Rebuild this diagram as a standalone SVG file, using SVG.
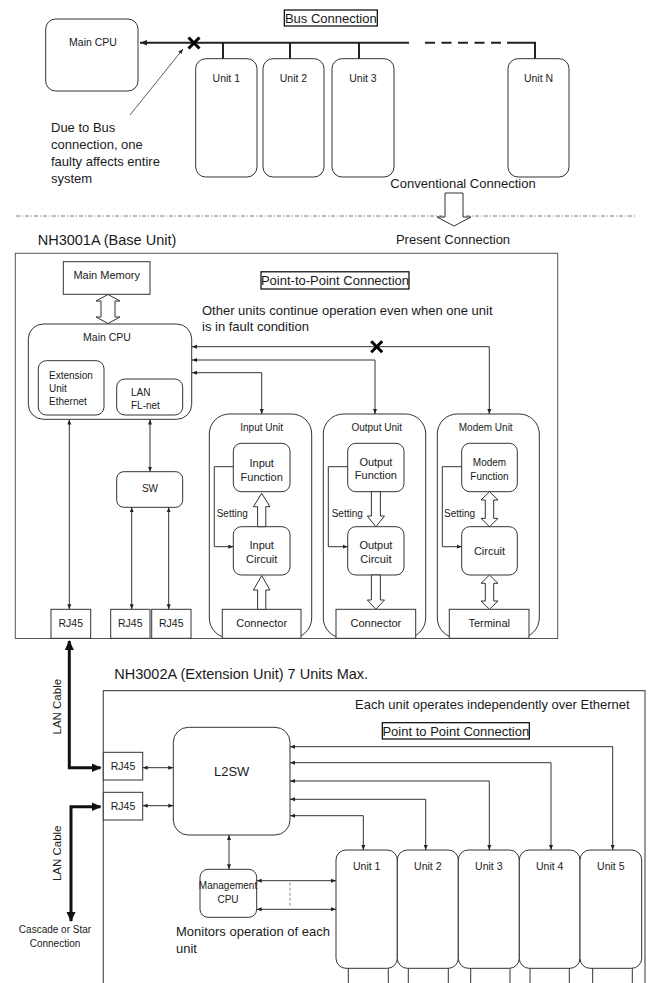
<svg xmlns="http://www.w3.org/2000/svg" width="653" height="983" viewBox="0 0 653 983">
<style>
text{font-family:"Liberation Sans",Arial,sans-serif;fill:#1a1a1a}
.s10{font-size:10px}.s105{font-size:10.5px}.s11{font-size:11px}.s13{font-size:13px}.s145{font-size:14.5px}
.m{text-anchor:middle}
.box{fill:#fff;stroke:#333;stroke-width:1}
.ln{fill:none;stroke:#333;stroke-width:1}
.thin{fill:none;stroke:#333;stroke-width:0.8}
.hol{fill:#fff;stroke:#333;stroke-width:1;stroke-linejoin:miter}
.lbl{fill:#fff;stroke:#000;stroke-width:1.2}
</style>
<defs>
<marker id="ah" viewBox="0 0 10 10" refX="10" refY="5" markerWidth="5" markerHeight="5" markerUnits="userSpaceOnUse" orient="auto-start-reverse"><path d="M0,1 L10,5 L0,9 z" fill="#222"/></marker>
<marker id="ahb" viewBox="0 0 10 10" refX="10" refY="5" markerWidth="7" markerHeight="7" markerUnits="userSpaceOnUse" orient="auto-start-reverse"><path d="M0,1 L10,5 L0,9 z" fill="#222"/></marker>
<marker id="ahk" viewBox="0 0 10 10" refX="9" refY="5" markerWidth="10" markerHeight="10" markerUnits="userSpaceOnUse" orient="auto-start-reverse"><path d="M0,0.5 L10,5 L0,9.5 z" fill="#111"/></marker>
</defs>

<!-- ===== Conventional (top) ===== -->
<g id="top-main-cpu"><rect class="box" x="45.7" y="19" width="92.3" height="72" rx="10"/><text class="s105 m" x="93" y="45.5">Main CPU</text></g>
<g id="bus-label"><rect class="lbl" x="284.3" y="10" width="93" height="16"/><text class="s13 m" x="330.8" y="22.7">Bus Connection</text></g>
<g id="top-unit1"><rect class="box" x="195.7" y="58.7" width="61.3" height="118.3" rx="10"/><text class="s105 m" x="226.3" y="81.5">Unit 1</text></g>
<g id="top-unit2"><rect class="box" x="263" y="58.7" width="61" height="118.3" rx="10"/><text class="s105 m" x="293.5" y="81.5">Unit 2</text></g>
<g id="top-unit3"><rect class="box" x="332" y="58.7" width="62" height="118.3" rx="10"/><text class="s105 m" x="363" y="81.5">Unit 3</text></g>
<g id="top-unitN"><rect class="box" x="508" y="58.7" width="61" height="118.3" rx="10"/><text class="s105 m" x="538.5" y="81.5">Unit N</text></g>
<g id="fault-note"><text class="s13" x="51" y="131.5">Due to Bus</text><text class="s13" x="51" y="148.8">connection, one</text><text class="s13" x="51" y="166.1">faulty affects entire</text><text class="s13" x="51" y="183.4">system</text></g>
<g id="conv-label"><text class="s13 m" x="463" y="187.5">Conventional Connection</text></g>
<g id="present-label"><text class="s13 m" x="453" y="243.5">Present Connection</text></g>

<g id="top-connectors">
<path d="M409,42.7 L140,42.7" fill="none" stroke="#222" stroke-width="2" marker-end="url(#ahb)"/>
<path d="M425,42.7 L507,42.7" fill="none" stroke="#222" stroke-width="2" stroke-dasharray="10 6.5"/>
<path d="M507,42.7 L535,42.7 L535,58.7" fill="none" stroke="#222" stroke-width="2"/>
<path d="M223,42.7 V58.7 M290,42.7 V58.7 M359,42.7 V58.7" fill="none" stroke="#222" stroke-width="2"/>
<path d="M188.5,37.5 L199.5,48.5 M199.5,37.5 L188.5,48.5" stroke="#000" stroke-width="3"/>
<path class="thin" d="M130,115 L183,49" marker-end="url(#ah)"/>
<line x1="16" y1="216" x2="636" y2="216" stroke="#555" stroke-width="0.8" stroke-dasharray="4 2 1 2"/>
<polygon class="hol" points="445,193 463,193 463,217 471,217 454,226 437,217 445,217"/>
</g>

<!-- ===== Base Unit ===== -->
<text class="s145" x="37.7" y="245">NH3001A (Base Unit)</text>
<rect x="15.3" y="253.3" width="542.4" height="385.2" fill="none" stroke="#555" stroke-width="1"/>
<g id="p2p-label"><rect class="lbl" x="261" y="271.8" width="148" height="17.2"/><text class="s13 m" x="335" y="285">Point-to-Point Connection</text></g>
<g id="base-note"><text class="s13" x="202" y="315.3">Other units continue operation even when one unit</text><text class="s13" x="202" y="331.3">is in fault condition</text></g>
<g id="main-memory"><rect class="box" x="63.3" y="261.7" width="86.7" height="32.6"/><text class="s11 m" x="106.7" y="279">Main Memory</text></g>
<g id="main-cpu"><rect class="box" x="28.3" y="324" width="163.4" height="95.3" rx="15"/><text class="s105 m" x="107" y="340.5">Main CPU</text>
<rect class="box" x="38.3" y="360.7" width="65.7" height="54.3" rx="8"/><text class="s10" x="49" y="378.5">Extension</text><text class="s10" x="49" y="391.5">Unit</text><text class="s10" x="49" y="404.5">Ethernet</text>
<rect class="box" x="116.7" y="379" width="66" height="36" rx="8"/><text class="s10" x="131" y="395.5">LAN</text><text class="s10" x="131" y="408.5">FL-net</text></g>
<g id="sw"><rect class="box" x="116.7" y="471.7" width="66" height="35.6" rx="7"/><text class="s10 m" x="150" y="491.5">SW</text></g>
<g id="rj45-a"><rect class="box" x="51" y="609.3" width="39.7" height="29"/><text class="s105 m" x="70.8" y="626.5">RJ45</text></g>
<g id="rj45-b"><rect class="box" x="110.7" y="609.3" width="39.3" height="29"/><text class="s105 m" x="130.3" y="626.5">RJ45</text></g>
<g id="rj45-c"><rect class="box" x="151.7" y="609.3" width="39.3" height="29"/><text class="s105 m" x="171.3" y="626.5">RJ45</text></g>

<g id="input-unit"><rect class="box" x="209.3" y="414" width="102.4" height="224" rx="20"/><text class="s10 m" x="261.7" y="431">Input Unit</text>
<rect class="box" x="233.3" y="443.3" width="56.7" height="48.4" rx="8"/><text class="s11 m" x="261.7" y="467">Input</text><text class="s11 m" x="261.7" y="481">Function</text>
<rect class="box" x="233.3" y="526.7" width="56.7" height="48.3" rx="8"/><text class="s11 m" x="261.7" y="549">Input</text><text class="s11 m" x="261.7" y="562.5">Circuit</text>
<rect class="box" x="222.3" y="609.3" width="78.7" height="29"/><text class="s11 m" x="261.7" y="626.5">Connector</text>
<text class="s10" x="216.7" y="517">Setting</text></g>
<g id="output-unit"><rect class="box" x="323.3" y="414" width="102.4" height="224" rx="20"/><text class="s10 m" x="376.7" y="431">Output Unit</text>
<rect class="box" x="347.7" y="443.3" width="56.3" height="48.4" rx="8"/><text class="s11 m" x="375.9" y="465.5">Output</text><text class="s11 m" x="375.9" y="479">Function</text>
<rect class="box" x="347.7" y="526.7" width="56.3" height="48.3" rx="8"/><text class="s11 m" x="375.9" y="549">Output</text><text class="s11 m" x="375.9" y="562.5">Circuit</text>
<rect class="box" x="336" y="609.3" width="79.7" height="29"/><text class="s11 m" x="375.9" y="626.5">Connector</text>
<text class="s10" x="331.7" y="517">Setting</text></g>
<g id="modem-unit"><rect class="box" x="437.3" y="414" width="102" height="224" rx="20"/><text class="s10 m" x="485.7" y="431">Modem Unit</text>
<rect class="box" x="461.7" y="443.3" width="55.6" height="48.4" rx="8"/><text class="s10 m" x="489.5" y="466">Modem</text><text class="s10 m" x="489.5" y="479.5">Function</text>
<rect class="box" x="461.7" y="526.7" width="55.6" height="48.3" rx="8"/><text class="s11 m" x="489.5" y="554.5">Circuit</text>
<rect class="box" x="449.3" y="609.3" width="79.7" height="29"/><text class="s11 m" x="489.2" y="626.5">Terminal</text>
<text class="s10" x="444" y="517">Setting</text></g>

<g id="base-connectors">
<polygon class="hol" points="108,294.5 96,301 101,301 101,317 96,317 108,323.5 120,317 115,317 115,301 120,301"/>
<path class="ln" d="M489.3,414 L489.3,346.7 L192,346.7" marker-start="url(#ah)" marker-end="url(#ah)"/>
<path class="ln" d="M375,414 L375,360 L192,360" marker-start="url(#ah)" marker-end="url(#ah)"/>
<path class="ln" d="M261.7,414 L261.7,372.7 L192,372.7" marker-start="url(#ah)" marker-end="url(#ah)"/>
<path d="M371.2,341.2 L382.2,352.2 M382.2,341.2 L371.2,352.2" stroke="#000" stroke-width="3"/>
<path class="ln" d="M69.3,419.5 V609.3" marker-start="url(#ah)" marker-end="url(#ah)"/>
<path class="ln" d="M150,419.5 V471.7" marker-start="url(#ah)" marker-end="url(#ah)"/>
<path class="ln" d="M131.7,507.3 V609.3" marker-start="url(#ah)" marker-end="url(#ah)"/>
<path class="ln" d="M168.7,507.3 V609.3" marker-start="url(#ah)" marker-end="url(#ah)"/>
<!-- input -->
<polygon class="hol" points="261.7,493.3 270,506.7 265.8,506.7 265.8,526.7 257.6,526.7 257.6,506.7 253.4,506.7"/>
<polygon class="hol" points="261.7,575.7 270,590 265.8,590 265.8,609.3 257.6,609.3 257.6,590 253.4,590"/>
<path class="ln" d="M233.3,466.7 H214.3 V546.7 H233.3" marker-end="url(#ah)"/>
<!-- output -->
<polygon class="hol" points="371.4,491.7 380.4,491.7 380.4,516 384.5,516 375.9,526.7 367.3,516 371.4,516"/>
<polygon class="hol" points="371.4,575 380.4,575 380.4,600 384.5,600 375.9,609.3 367.3,600 371.4,600"/>
<path class="ln" d="M347.7,466.7 H328.3 V546.7 H347.7" marker-end="url(#ah)"/>
<!-- modem -->
<polygon class="hol" points="489.5,491.7 498,500 493.7,500 493.7,518.4 498,518.4 489.5,526.7 481,518.4 485.3,518.4 485.3,500 481,500"/>
<polygon class="hol" points="489.5,575 498,583.3 493.7,583.3 493.7,601 498,601 489.5,609.3 481,601 485.3,601 485.3,583.3 481,583.3"/>
<path class="ln" d="M461.7,466.7 H442.3 V546.7 H461.7" marker-end="url(#ah)"/>
</g>

<!-- ===== Extension Unit ===== -->
<text class="s145" x="114.3" y="678.5">NH3002A (Extension Unit) 7 Units Max.</text>
<path d="M103.3,983 V690.7 H645 V983" fill="none" stroke="#555" stroke-width="1.2"/>
<g id="ext-note"><text class="s13" x="355" y="709">Each unit operates independently over Ethernet</text></g>
<g id="p2p-label-2"><rect class="lbl" x="382.3" y="722.7" width="147" height="16.3"/><text class="s13 m" x="455.8" y="735.5">Point to Point Connection</text></g>
<g id="ext-rj45-a"><rect class="box" x="103.3" y="752.3" width="39.4" height="27.7"/><text class="s105 m" x="123" y="770">RJ45</text></g>
<g id="ext-rj45-b"><rect class="box" x="103.3" y="792.3" width="39.4" height="27.7"/><text class="s105 m" x="123" y="810">RJ45</text></g>
<g id="l2sw"><rect class="box" x="173.3" y="727.3" width="116.7" height="107.7" rx="15"/><text class="s13 m" x="231.7" y="776">L2SW</text></g>
<g id="mgmt-cpu"><rect class="box" x="200" y="869.3" width="56.7" height="48" rx="8"/><text class="s10 m" x="228" y="889">Management</text><text class="s10 m" x="228" y="902.5">CPU</text></g>
<g id="mon-note"><text class="s13" x="176" y="935.5">Monitors operation of each</text><text class="s13" x="176" y="952.8">unit</text></g>
<g id="lan-cable-1"><text class="s11 m" style="font-size:11.5px" transform="translate(56.7,706.7) rotate(-90)" y="4">LAN Cable</text></g>
<g id="lan-cable-2"><text class="s11 m" style="font-size:11.5px" transform="translate(56.7,853.3) rotate(-90)" y="4">LAN Cable</text></g>
<g id="cascade-note"><text class="s10 m" x="55" y="933">Cascade or Star</text><text class="s10 m" x="55" y="947">Connection</text></g>

<g id="ext-unit1"><rect class="box" x="336" y="850" width="61.3" height="118.3" rx="10"/><text class="s105 m" x="366.7" y="870">Unit 1</text></g>
<g id="ext-unit2"><rect class="box" x="397.3" y="850" width="61" height="118.3" rx="10"/><text class="s105 m" x="427.8" y="870">Unit 2</text></g>
<g id="ext-unit3"><rect class="box" x="458.3" y="850" width="61" height="118.3" rx="10"/><text class="s105 m" x="488.8" y="870">Unit 3</text></g>
<g id="ext-unit4"><rect class="box" x="519.3" y="850" width="60.7" height="118.3" rx="10"/><text class="s105 m" x="549.7" y="870">Unit 4</text></g>
<g id="ext-unit5"><rect class="box" x="580" y="850" width="61.7" height="118.3" rx="10"/><text class="s105 m" x="610.8" y="870">Unit 5</text></g>

<g id="ext-connectors">
<path d="M69.3,641 V767.7 H100.5" fill="none" stroke="#111" stroke-width="3" marker-start="url(#ahk)" marker-end="url(#ahk)"/>
<path d="M100.5,806.7 H71 V921" fill="none" stroke="#111" stroke-width="3" marker-start="url(#ahk)" marker-end="url(#ahk)"/>
<path class="ln" d="M142.7,767.7 H173.3" marker-start="url(#ah)" marker-end="url(#ah)"/>
<path class="ln" d="M142.7,805.7 H173.3" marker-start="url(#ah)" marker-end="url(#ah)"/>
<path class="ln" d="M290,746.7 H612.7 V850" marker-start="url(#ah)" marker-end="url(#ah)"/>
<path class="ln" d="M290,762.7 H551 V850" marker-start="url(#ah)" marker-end="url(#ah)"/>
<path class="ln" d="M290,781 H489.3 V850" marker-start="url(#ah)" marker-end="url(#ah)"/>
<path class="ln" d="M290,799.3 H425.7 V850" marker-start="url(#ah)" marker-end="url(#ah)"/>
<path class="ln" d="M290,815.7 H363.3 V850" marker-start="url(#ah)" marker-end="url(#ah)"/>
<path class="ln" d="M229,835 V869.3" marker-start="url(#ah)" marker-end="url(#ah)"/>
<path class="ln" d="M256.7,880.7 H336" marker-start="url(#ah)" marker-end="url(#ah)"/>
<path class="ln" d="M256.7,909.3 H336" marker-start="url(#ah)" marker-end="url(#ah)"/>
<line x1="290" y1="882.7" x2="290" y2="906" stroke="#888" stroke-width="1" stroke-dasharray="3 2"/>
<path class="ln" d="M348.3,968.3 V983 M388.3,968.3 V983 M408.3,968.3 V983 M448.3,968.3 V983 M470.7,968.3 V983 M510,968.3 V983 M530,968.3 V983 M569.3,968.3 V983 M592.7,968.3 V983 M632.3,968.3 V983"/>
</g>
</svg>
